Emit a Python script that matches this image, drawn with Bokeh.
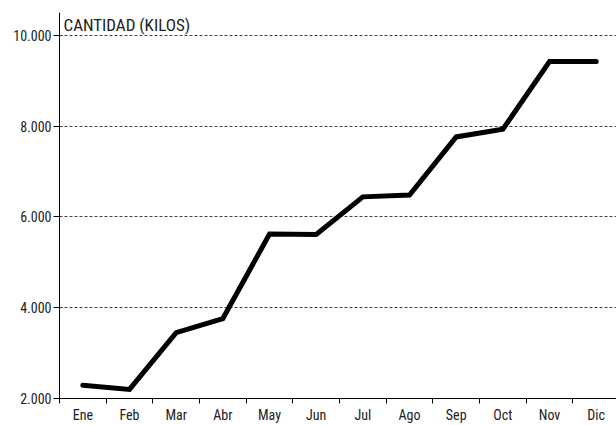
from bokeh.plotting import figure
from bokeh.models import FixedTicker, Range1d, Label, ColumnDataSource
from bokeh.embed import file_html
from bokeh.resources import INLINE

months = ["Ene", "Feb", "Mar", "Abr", "May", "Jun", "Jul", "Ago", "Sep", "Oct", "Nov", "Dic"]
kilos = [2290, 2200, 3450, 3760, 5620, 5610, 6440, 6480, 7760, 7930, 9420, 9420]
y_ticks = [2000, 4000, 6000, 8000, 10000]
y_tick_labels = ["2.000", "4.000", "6.000", "8.000", "10.000"]
y_title = "CANTIDAD (KILOS)"

FONT = "Liberation Sans Narrow, Roboto Condensed, DejaVu Sans Condensed, sans-serif"
TXT = "#222222"

centers = [i + 0.5 for i in range(len(months))]
bounds = list(range(len(months) + 1))

p = figure(width=616, height=425, output_backend="svg", toolbar_location=None,
           x_range=Range1d(0, 11.935), y_range=Range1d(2000, 10500),
           min_border_left=59, min_border_right=0, min_border_top=12, min_border_bottom=26)
p.outline_line_color = None
p.background_fill_color = "white"
p.border_fill_color = "white"

src = ColumnDataSource(dict(x=centers, y=kilos))
p.line("x", "y", source=src, line_color="black", line_width=5,
       line_cap="round", line_join="miter")

# x axis
xa = p.xaxis[0]
xa.ticker = FixedTicker(ticks=centers, minor_ticks=bounds)
xa.major_label_overrides = {c: m for c, m in zip(centers, months)}
xa.major_tick_line_color = None
xa.major_tick_out = 0
xa.major_tick_in = 0
xa.minor_tick_line_color = "black"
xa.minor_tick_out = 5
xa.minor_tick_in = 0
xa.axis_line_color = "black"
xa.axis_line_width = 1
xa.major_label_standoff = 3
xa.major_label_text_font = FONT
xa.major_label_text_font_size = "14px"
xa.major_label_text_color = TXT

# y axis
ya = p.yaxis[0]
ya.ticker = FixedTicker(ticks=y_ticks)
ya.major_label_overrides = {t: l for t, l in zip(y_ticks, y_tick_labels)}
ya.major_tick_out = 6
ya.major_tick_in = 0
ya.major_tick_line_color = "black"
ya.minor_tick_line_color = None
ya.axis_line_color = "black"
ya.axis_line_width = 1
ya.major_label_standoff = 2
ya.major_label_text_font = FONT
ya.major_label_text_font_size = "14px"
ya.major_label_text_color = TXT

p.xgrid.grid_line_color = None
p.ygrid.ticker = FixedTicker(ticks=y_ticks)
p.ygrid.grid_line_color = "#444444"
p.ygrid.grid_line_dash = "3 2"
p.ygrid.grid_line_width = 1

p.add_layout(Label(x=0, y=10500, text=y_title, x_offset=4, y_offset=-2,
                   text_baseline="top", text_font=FONT, text_font_size="17px",
                   text_color=TXT))

open("out.html", "w").write(file_html(p, INLINE))
